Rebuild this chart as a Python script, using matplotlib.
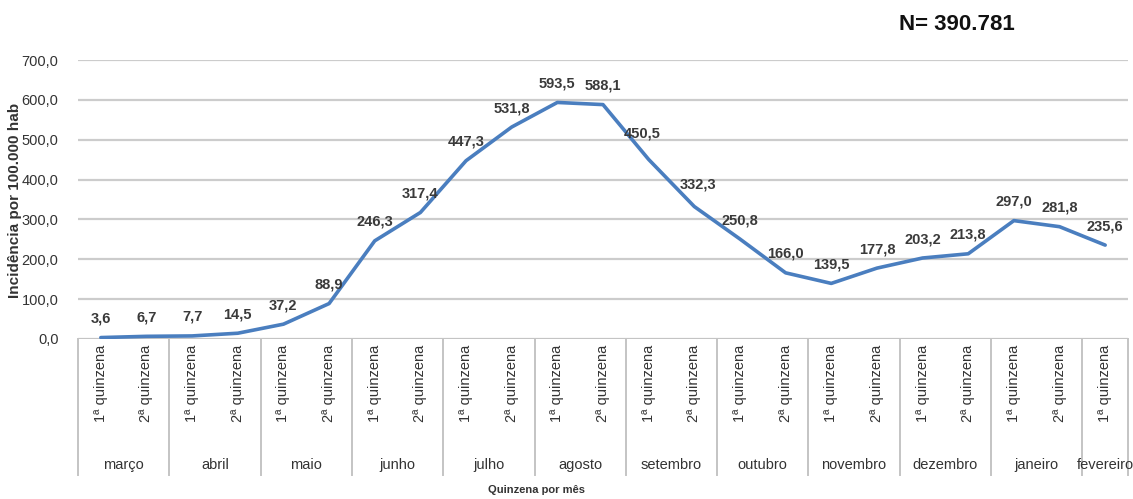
import matplotlib
matplotlib.use("Agg")
import matplotlib.pyplot as plt
import matplotlib.transforms as mtransforms

# Incidência quinzenal por 100.000 habitantes
months = ["março", "abril", "maio", "junho", "julho", "agosto", "setembro",
          "outubro", "novembro", "dezembro", "janeiro", "fevereiro"]
fortnights = ["1ª quinzena", "2ª quinzena"]
incidence = [3.6, 6.7, 7.7, 14.5, 37.2, 88.9, 246.3, 317.4, 447.3, 531.8,
             593.5, 588.1, 450.5, 332.3, 250.8, 166.0, 139.5, 177.8,
             203.2, 213.8, 297.0, 281.8, 235.6]
yticks = [0, 100, 200, 300, 400, 500, 600, 700]
total_label = "N= 390.781"
ylabel = "Incidência por 100.000 hab"
xlabel = "Quinzena por mês"

FONT = ["Liberation Sans", "DejaVu Sans"]
NARROW = ["Liberation Sans Narrow", "Liberation Sans", "DejaVu Sans"]
plt.rcParams["font.family"] = FONT

W, H = 1133, 499
fig = plt.figure(figsize=(W / 100, H / 100), dpi=100)
ax = fig.add_axes([78 / W, 1 - 339 / H, (1128 - 78) / W, (339 - 60) / H])

n = len(incidence)
x = list(range(n))
ax.set_xlim(-0.5, n - 0.5)
ax.set_ylim(0, 700)

for yv in yticks[1:]:
    ax.axhline(yv, color="#cccccc", lw=1.6, zorder=1)
ax.axhline(0, color="#c4c4c4", lw=1.6, zorder=1)

ax.plot(x, incidence, color="#4a7ebf", lw=2.6, zorder=3,
        solid_joinstyle="round", solid_capstyle="round")

# value labels (offsets in pixels)
offsets = {12: (-6, 26), 13: (4, 22)}
for i, v in enumerate(incidence):
    dx, dy = offsets.get(i, (0, 19))
    ax.annotate(f"{v:.1f}".replace(".", ","), (i, v), xytext=(dx * 0.72, dy * 0.72),
                textcoords="offset points", ha="center", va="center",
                fontsize=10.5, fontweight="bold", color="#3a3a3a",
                family=NARROW, zorder=4)

ax.set_yticks(yticks)
ax.set_yticklabels([f"{t:.1f}".replace(".", ",") for t in yticks],
                   fontsize=10.5, color="#333333")
ax.tick_params(axis="y", length=0, pad=14)
ax.set_xticks([])
for s in ax.spines.values():
    s.set_visible(False)

# category axis: fortnights, months and separators
trans = mtransforms.blended_transform_factory(ax.transData, ax.transAxes)
box_bottom = -(475 - 339) / (339 - 60)
for i in range(n):
    ax.text(i, -0.02, fortnights[i % 2], rotation=90, ha="center", va="top",
            fontsize=10.5, color="#333333", transform=trans)
bounds = list(range(0, n, 2)) + [n]
for b in bounds:
    xb = b - 0.5
    ax.plot([xb, xb], [0, box_bottom], color="#c4c4c4", lw=1.4,
            transform=trans, clip_on=False)
for k, m in enumerate(months):
    start = 2 * k
    end = min(2 * k + 1, n - 1)
    ax.text((start + end) / 2, -(465 - 339) / (339 - 60), m, ha="center",
            va="center", fontsize=10.5, color="#333333", transform=trans)

fig.text(15 / W, 1 - 200 / H, ylabel, rotation=90, ha="center", va="center",
         fontsize=11, fontweight="bold", color="#333333")
fig.text(536 / W, 1 - 490 / H, xlabel, ha="center", va="center",
         fontsize=8, fontweight="bold", color="#333333")
fig.text(957 / W, 1 - 25 / H, total_label, ha="center", va="center",
         fontsize=16, fontweight="bold", color="#111111", family=NARROW)

fig.savefig("out.png", dpi=100)
